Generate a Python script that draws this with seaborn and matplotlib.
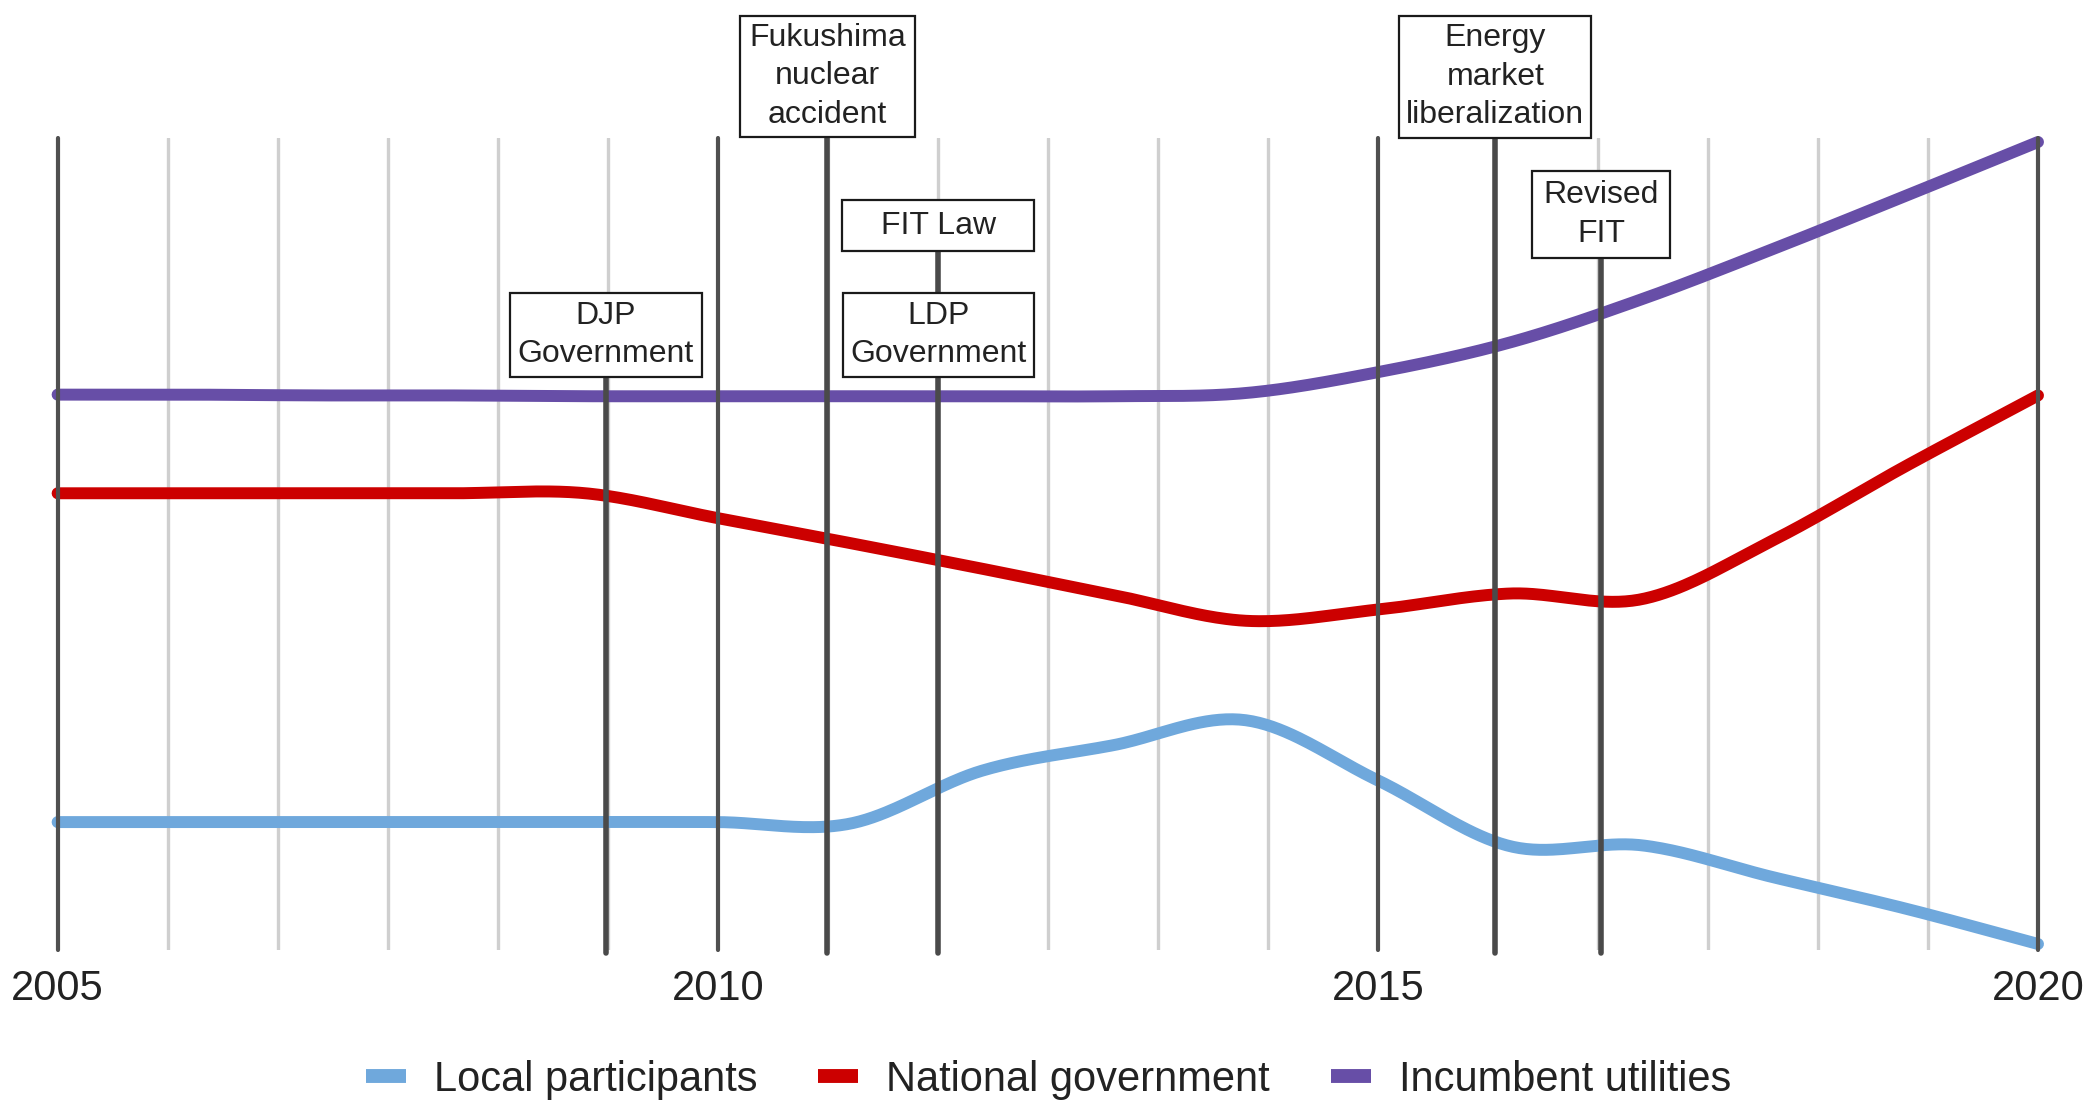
import numpy as np
import pandas as pd
import matplotlib
matplotlib.use("Agg")
import matplotlib.pyplot as plt
import seaborn as sns
from matplotlib.patches import Rectangle
from matplotlib.lines import Line2D

# ---------------- data ----------------
years = list(range(2005, 2021))
local_participants = [15.2, 15.2, 15.2, 15.2, 15.2, 15.2, 15.0, 21.6, 24.8, 27.9, 20.4, 12.2, 12.3, 8.3, 4.4, 0.0]
national_government = [56.2, 56.2, 56.2, 56.2, 56.2, 53.1, 50.0, 46.8, 43.5, 40.3, 41.7, 43.7, 43.0, 50.4, 59.6, 68.4]
incumbent_utilities = [68.5, 68.5, 68.4, 68.4, 68.3, 68.3, 68.3, 68.3, 68.3, 68.7, 71.3, 75.0, 80.4, 86.7, 93.3, 100.0]

series_names = ["Local participants", "National government", "Incumbent utilities"]
series_colors = ["#6fa8dc", "#cc0000", "#674ea7"]

major_ticks = [2005, 2010, 2015, 2020]
major_labels = ["2005", "2010", "2015", "2020"]

event_labels = ["DJP\nGovernment", "Fukushima\nnuclear\naccident", "FIT Law",
                "LDP\nGovernment", "Energy\nmarket\nliberalization", "Revised\nFIT"]
event_x = [2009.15, 2010.83, 2011.67, 2011.67, 2015.89, 2016.69]

# ---------------- helpers ----------------
def smooth_curve(xs, ys, n=40):
    """Cubic Hermite (Catmull-Rom style) rendering of the read points."""
    xs = np.asarray(xs, float)
    ys = np.asarray(ys, float)
    m = np.gradient(ys, xs)
    out_x, out_y = [], []
    for i in range(len(xs) - 1):
        t = np.linspace(0, 1, n, endpoint=(i == len(xs) - 2))
        dx = xs[i + 1] - xs[i]
        h00 = 2 * t**3 - 3 * t**2 + 1
        h10 = t**3 - 2 * t**2 + t
        h01 = -2 * t**3 + 3 * t**2
        h11 = t**3 - t**2
        out_x.append(xs[i] + t * dx)
        out_y.append(h00 * ys[i] + h10 * dx * m[i] + h01 * ys[i + 1] + h11 * dx * m[i + 1])
    return np.concatenate(out_x), np.concatenate(out_y)

frames = []
for name, vals in zip(series_names, [local_participants, national_government, incumbent_utilities]):
    sx, sy = smooth_curve(years, vals)
    frames.append(pd.DataFrame({"year": sx, "value": sy, "series": name}))
df = pd.concat(frames, ignore_index=True)

# ---------------- figure ----------------
sns.set_style("white")
plt.rcParams["font.family"] = ["Liberation Sans", "DejaVu Sans"]

W, H = 2100, 1113
fig = plt.figure(figsize=(W / 100, H / 100), dpi=100)
ax_left, ax_right, ax_top, ax_bottom = 57.6, 2038.0, 138.0, 950.0
ax = fig.add_axes([ax_left / W, 1 - ax_bottom / H, (ax_right - ax_left) / W, (ax_bottom - ax_top) / H])

sns.lineplot(data=df, x="year", y="value", hue="series", hue_order=series_names,
             palette=series_colors, linewidth=8.6, estimator=None, sort=False,
             legend=False, ax=ax, zorder=3)
for ln in ax.lines:
    ln.set_solid_capstyle("round")
    ln.set_clip_on(False)

ax.set_xlim(2005, 2020)
ax.set_ylim(-0.75, 100.5)

# event boxes layout (center y px, width px, height px)
box_layout = [(335, 192, 84), (76.5, 175, 121), (225.5, 192, 51),
              (335, 191, 84), (76.75, 192, 121.5), (214.5, 138, 87)]

# event lines reach from the bottom up to the (topmost) attached box
line_top = {}
for ex, (cy, bw, bh) in zip(event_x, box_layout):
    frac = min(1.0, (ax_bottom - cy) / (ax_bottom - ax_top))
    line_top[ex] = max(line_top.get(ex, 0), frac)

# minor gridlines (light); hidden where a full-height event line sits
minor_ticks = np.linspace(2005, 2020, 19)
full_events = [ex for ex, fr in line_top.items() if fr >= 1.0]
minor_ticks = [m for m in minor_ticks
               if all(abs(m - ex) > 0.12 or abs(m - ex) < 0.01 for ex in full_events)]
ax.set_xticks(minor_ticks, minor=True)
ax.set_xticks(major_ticks)
ax.set_xticklabels(major_labels)
ax.grid(False)
ax.xaxis.grid(True, which="minor", color="#cfcfcf", linewidth=2.4)
ax.set_axisbelow(True)
ax.set_yticks([])
ax.set_xlabel("")
ax.set_ylabel("")
ax.tick_params(axis="x", which="both", length=0, pad=14, labelsize=30, labelcolor="#222222")
sns.despine(ax=ax, left=True, bottom=True)

# major dark lines
for xm in major_ticks:
    ax.axvline(xm, color="#505050", linewidth=3.0, zorder=4, clip_on=False)

for ex, frac in line_top.items():
    ax.axvline(ex, ymin=-0.004, ymax=frac, color="#4a4a4a", linewidth=4.0, zorder=4, clip_on=False)

# boxes with labels
for ex, lab, (cy, bw, bh) in zip(event_x, event_labels, box_layout):
    cx = ax.transData.transform((ex, 0))[0]
    rect = Rectangle(((cx - bw / 2) / W, 1 - (cy + bh / 2) / H), bw / W, bh / H,
                     transform=fig.transFigure, facecolor="white", edgecolor="#1a1a1a",
                     linewidth=1.6, zorder=10)
    fig.add_artist(rect)
    fig.text(cx / W, 1 - cy / H, lab, ha="center", va="center", fontsize=23,
             linespacing=1.38, color="#222222", zorder=11)

# legend
handles = [Line2D([0], [0], color=c, linewidth=10, solid_capstyle="butt") for c in series_colors]
fig.legend(handles, series_names, loc="center", bbox_to_anchor=(0.4993, 1 - 1080 / H),
           ncol=3, frameon=False, fontsize=30, handlelength=0.96, handletextpad=0.67,
           columnspacing=1.46, labelcolor="#222222")

fig.savefig("out.png", dpi=100, facecolor="white")
